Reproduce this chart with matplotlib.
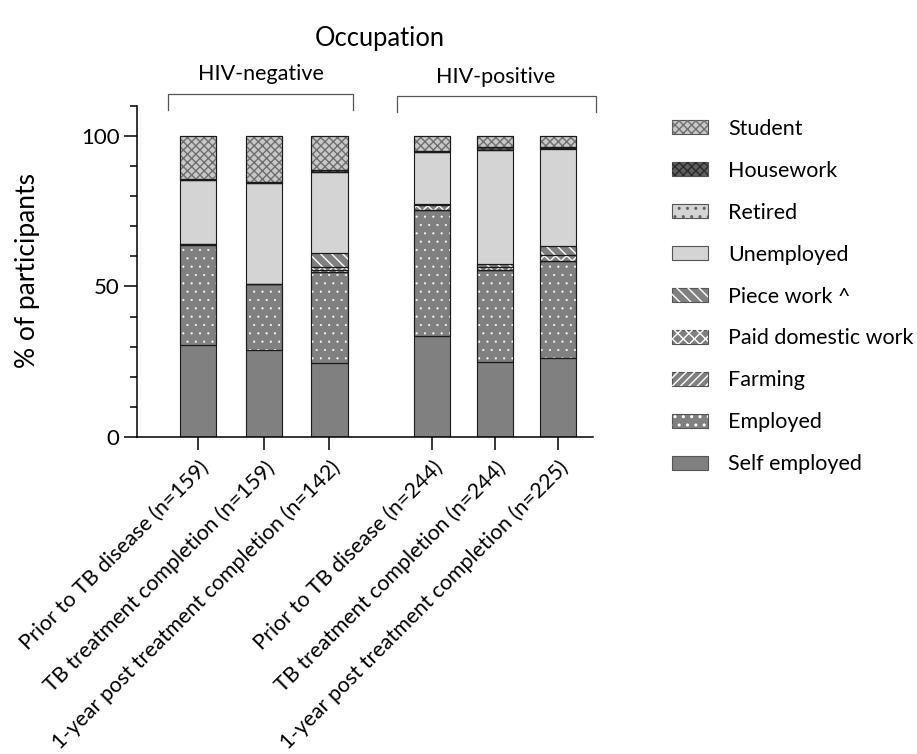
import matplotlib
matplotlib.use('Agg')
import matplotlib.pyplot as plt
from matplotlib.patches import Patch
from matplotlib.ticker import MultipleLocator
import numpy as np

plt.rcParams['font.family'] = ['Lato', 'DejaVu Sans']
plt.rcParams['hatch.linewidth'] = 1.0

### data (% of participants) ###
categories = ['Prior to TB disease (n=159)', 'TB treatment completion (n=159)',
              '1-year post treatment completion (n=142)',
              'Prior to TB disease (n=244)', 'TB treatment completion (n=244)',
              '1-year post treatment completion (n=225)']
groups = ['HIV-negative', 'HIV-positive']

self_employed = [30.6, 28.9, 24.6, 33.6, 25.0, 26.2]
employed      = [33.0, 22.0, 30.3, 41.8, 30.3, 32.4]
farming       = [0.6, 0.0, 0.7, 0.0, 0.0, 0.0]
paid_domestic = [0.0, 0.0, 0.7, 1.6, 1.2, 1.8]
piece_work    = [0.0, 0.0, 4.9, 0.4, 0.8, 3.1]
unemployed    = [21.0, 33.3, 26.8, 17.2, 38.1, 32.0]
retired       = [0.0, 0.0, 0.0, 0.0, 0.0, 0.4]
housework     = [0.6, 0.6, 0.7, 0.4, 0.8, 0.4]
student       = [14.2, 15.2, 11.3, 5.0, 3.8, 3.7]

# stacking order, bottom to top
series = [('Self employed', self_employed),
          ('Employed', employed),
          ('Farming', farming),
          ('Paid domestic work', paid_domestic),
          ('Piece work ^', piece_work),
          ('Unemployed', unemployed),
          ('Retired', retired),
          ('Housework', housework),
          ('Student', student)]

# face colour, hatch, hatch colour
styles = {'Self employed':      ('#808080', None, None),
          'Employed':           ('#808080', '..', 'white'),
          'Farming':            ('#808080', '////', 'white'),
          'Paid domestic work': ('#808080', 'xxx', 'white'),
          'Piece work ^':       ('#808080', '\\\\\\', 'white'),
          'Unemployed':         ('#d4d4d4', None, None),
          'Retired':            ('#d4d4d4', '..', '#606060'),
          'Housework':          ('#5e5e5e', 'xxxx', '#2a2a2a'),
          'Student':            ('#c8c8c8', 'xxxx', '#6e6e6e')}


def thin_dots(artist, hatch):
    # smaller dots, like the original
    if '.' in hatch and hasattr(artist, 'set_hatch_linewidth'):
        artist.set_hatch_linewidth(0.3)


# bar positions: two groups of three
x = np.array([0, 1, 2, 3.57, 4.53, 5.49])
width = 0.55

fig = plt.figure(figsize=(9.17, 7.54), dpi=100)
ax = fig.add_axes([0.1494, 0.4204, 0.4973, 0.4394])

bottom = np.zeros(len(categories))
handles = {}
for name, vals in series:
    vals = np.array(vals)
    face, hatch, hcol = styles[name]
    ax.bar(x, vals, width, bottom=bottom, color=face,
           edgecolor='#1a1a1a', linewidth=0.8, zorder=2)
    h = (Patch(facecolor=face, edgecolor='#555555', linewidth=0.8),)
    if hatch:
        hb = ax.bar(x, vals, width, bottom=bottom, facecolor='none',
                    edgecolor=hcol, linewidth=0, hatch=hatch, zorder=3)
        for p in hb:
            thin_dots(p, hatch)
        # redraw edges on top of hatch
        ax.bar(x, vals, width, bottom=bottom, facecolor='none',
               edgecolor='#1a1a1a', linewidth=0.8, zorder=4)
        hp = Patch(facecolor='none', edgecolor=hcol, linewidth=0, hatch=hatch)
        thin_dots(hp, hatch)
        h = (Patch(facecolor=face, edgecolor='#555555', linewidth=0.8), hp)
    handles[name] = h
    bottom += vals

ax.set_xlim(-0.936, 6.02)
ax.set_ylim(0, 110)
ax.set_yticks([0, 50, 100])
ax.yaxis.set_minor_locator(MultipleLocator(10))
ax.set_xticks(x)
ax.set_xticklabels(categories, rotation=45, ha='right', rotation_mode='anchor',
                   fontsize=15.5)
ax.tick_params(axis='x', length=9.5, width=1.1, pad=5)
ax.tick_params(axis='y', which='major', length=9.5, width=1.1, labelsize=16, pad=3)
ax.tick_params(axis='y', which='minor', length=5, width=1.1)
for s in ['top', 'right']:
    ax.spines[s].set_visible(False)
for s in ['left', 'bottom']:
    ax.spines[s].set_linewidth(1.1)

fig.text(0.0305, 0.6406, '% of participants', rotation=90, ha='center',
         va='center', fontsize=19)
fig.text(0.414, 0.949, 'Occupation', ha='center', va='center', fontsize=18.4)

# group brackets
br_col = '#555555'
ax.plot([-0.46, -0.46, 2.36, 2.36], [108.6, 114.0, 114.0, 108.6],
        color=br_col, lw=0.9, clip_on=False)
ax.plot([3.03, 3.03, 6.06, 6.06], [108.0, 113.3, 113.3, 108.0],
        color=br_col, lw=0.9, clip_on=False)
ax.text(0.95, 120.5, groups[0], ha='center', va='center', fontsize=15.5)
ax.text(4.54, 119.6, groups[1], ha='center', va='center', fontsize=15.5)

# legend, top to bottom
leg_order = [name for name, _ in series][::-1]
fig.legend([handles[n] for n in leg_order], leg_order,
           loc='upper left', bbox_to_anchor=(0.7234, 0.854), frameon=False,
           fontsize=15.5, handlelength=1.67, handleheight=0.65,
           handletextpad=0.93, labelspacing=1.02, borderaxespad=0)

plt.savefig('out.png', dpi=100)
